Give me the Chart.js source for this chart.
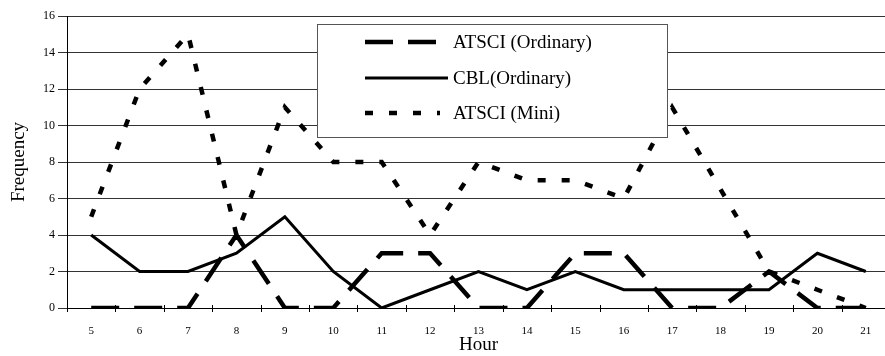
<!DOCTYPE html>
<html>
<head>
<meta charset="utf-8">
<script src="https://cdn.jsdelivr.net/npm/chart.js@4.4.0/dist/chart.umd.min.js"></script>
<style>
  html, body { margin: 0; padding: 0; background: #fff; overflow: hidden; }
  #wrap { width: 885px; height: 356px; overflow: hidden; }
</style>
</head>
<body>
<div id="wrap"><canvas id="chart" width="890" height="356"></canvas></div>
<script>
// Hours of the day on the x axis
const hours = ["5", "6", "7", "8", "9", "10", "11", "12", "13", "14", "15", "16", "17", "18", "19", "20", "21"];

// Frequency per hour for each series
const atsciOrdinary = [0, 0, 0, 4, 0, 0, 3, 3, 0, 0, 3, 3, 0, 0, 2, 0, 0];
const cblOrdinary   = [4, 2, 2, 3, 5, 2, 0, 1, 2, 1, 2, 1, 1, 1, 1, 3, 2];
const atsciMini     = [5, 12, 15, 4, 11, 8, 8, 4, 8, 7, 7, 6, 11, 6.5, 2, 1, 0];

const seriesNames = ["ATSCI (Ordinary)", "CBL(Ordinary)", "ATSCI (Mini)"];
const yTicks = [0, 2, 4, 6, 8, 10, 12, 14, 16];

const serif = "'Liberation Serif', 'Times New Roman', serif";

// Boxed legend sitting inside the plot area
const boxLegend = {
  id: "boxLegend",
  afterDraw(chart) {
    const ctx = chart.ctx;
    const x = 317.5, y = 24.5, w = 350, h = 113;
    ctx.save();
    ctx.fillStyle = "#fff";
    ctx.fillRect(x, y, w, h);
    ctx.strokeStyle = "#555";
    ctx.lineWidth = 1;
    ctx.strokeRect(x, y, w, h);
    const rows = [42, 78, 113];
    chart.data.datasets.forEach((ds, i) => {
      ctx.beginPath();
      ctx.strokeStyle = ds.borderColor;
      ctx.lineWidth = ds.borderWidth;
      ctx.lineCap = "butt";
      ctx.setLineDash(ds.borderDash || []);
      ctx.moveTo(365, rows[i]);
      ctx.lineTo(i === 1 ? 448 : 440, rows[i]);
      ctx.stroke();
      ctx.setLineDash([]);
      ctx.fillStyle = "#000";
      ctx.font = "19px " + serif;
      ctx.textBaseline = "middle";
      ctx.fillText(ds.label, 453, rows[i] + 1);
    });
    ctx.restore();
  }
};

// Small tick marks on the hour axis that cross the axis line
const crossTicks = {
  id: "crossTicks",
  afterDraw(chart) {
    const ctx = chart.ctx;
    const xs = chart.scales.x;
    const y0 = chart.chartArea.bottom;
    ctx.save();
    ctx.strokeStyle = "#000";
    ctx.lineWidth = 1;
    ctx.beginPath();
    for (let i = 0; i <= hours.length; i++) {
      const px = Math.round(xs.left + (xs.width / hours.length) * i) + 0.5;
      ctx.moveTo(px, y0 - 3);
      ctx.lineTo(px, y0 + 4);
    }
    ctx.stroke();
    ctx.restore();
  }
};

new Chart(document.getElementById("chart"), {
  type: "line",
  data: {
    labels: hours,
    datasets: [
      {
        label: seriesNames[0],
        data: atsciOrdinary,
        borderColor: "#000",
        borderWidth: 4.5,
        borderDash: [28, 15],
        pointRadius: 0,
        tension: 0
      },
      {
        label: seriesNames[1],
        data: cblOrdinary,
        borderColor: "#000",
        borderWidth: 3,
        pointRadius: 0,
        tension: 0
      },
      {
        label: seriesNames[2],
        data: atsciMini,
        borderColor: "#000",
        borderWidth: 4.5,
        borderDash: [8, 16],
        pointRadius: 0,
        tension: 0
      }
    ]
  },
  options: {
    responsive: false,
    animation: false,
    layout: { padding: { top: 16, left: 6, right: 0, bottom: 0 } },
    plugins: {
      legend: { display: false },
      tooltip: { enabled: false }
    },
    scales: {
      x: {
        offset: true,
        afterFit(scale) { scale.height = 48; },
        grid: {
          display: false
        },
        border: { color: "#000", width: 1 },
        ticks: {
          color: "#000",
          font: { family: serif, size: 11 },
          padding: 9,
          maxRotation: 0,
          autoSkip: false
        },
        title: {
          display: true,
          text: "Hour",
          color: "#000",
          font: { family: serif, size: 19 },
          padding: { top: 0, bottom: 0 }
        }
      },
      y: {
        min: 0,
        max: 16,
        afterFit(scale) { scale.width = 61; },
        afterBuildTicks(scale) {
          scale.ticks = yTicks.map(v => ({ value: v }));
        },
        grid: {
          color: "#333",
          lineWidth: 1,
          tickLength: 9
        },
        border: { color: "#000", width: 1 },
        ticks: {
          color: "#000",
          font: { family: serif, size: 12 },
          padding: 3
        },
        title: {
          display: true,
          text: "Frequency",
          color: "#000",
          font: { family: serif, size: 19 },
          padding: { top: 2, bottom: 8 }
        }
      }
    }
  },
  plugins: [crossTicks, boxLegend]
});
</script>
</body>
</html>
